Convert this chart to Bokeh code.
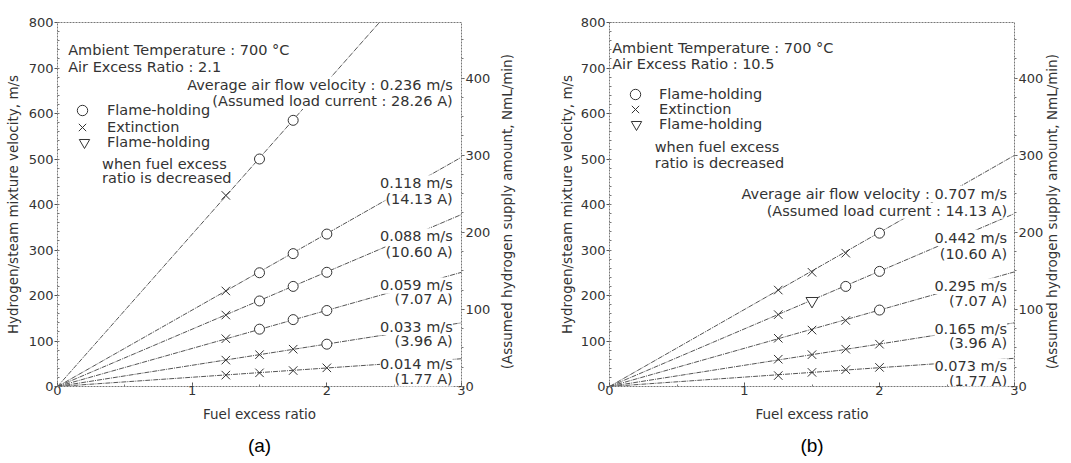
import math
from bokeh.plotting import figure
from bokeh.models import (Range1d, LinearAxis, SingleIntervalTicker, FixedTicker,
                          Label, Legend, LegendItem)
from bokeh.core.properties import value
from bokeh.layouts import row
from bokeh.embed import file_html
from bokeh.resources import INLINE

# ---------------- data ----------------
fuel_excess = [1.25, 1.5, 1.75, 2.0]

# panel (a) : air excess ratio 2.1
a_air_velocity = ["0.236", "0.118", "0.088", "0.059", "0.033", "0.014"]
a_load_current = ["28.26", "14.13", "10.60", "7.07", "3.96", "1.77"]
a_v0236 = [420, 500, 585]
a_v0118 = [210, 250, 292, 335]
a_v0088 = [157, 188, 220, 251]
a_v0059 = [105, 126, 147, 167]
a_v0033 = [58, 70, 82, 93]
a_v0014 = [25, 30, 35, 41]
a_m0236 = ["x", "o", "o"]
a_m0118 = ["x", "o", "o", "o"]
a_m0088 = ["x", "o", "o", "o"]
a_m0059 = ["x", "o", "o", "o"]
a_m0033 = ["x", "x", "x", "o"]
a_m0014 = ["x", "x", "x", "x"]
a_line_end_x = [2.39, 3, 3, 3, 3, 3]
a_line_end_y = [800, 504, 378, 251, 140, 61]

# panel (b) : air excess ratio 10.5
b_air_velocity = ["0.707", "0.442", "0.295", "0.165", "0.073"]
b_load_current = ["14.13", "10.60", "7.07", "3.96", "1.77"]
b_v0707 = [212, 251, 293, 337]
b_v0442 = [158, 188, 220, 253]
b_v0295 = [106, 124, 145, 168]
b_v0165 = [60, 70, 82, 93]
b_v0073 = [24, 31, 37, 42]
b_m0707 = ["x", "x", "x", "o"]
b_m0442 = ["x", "v", "o", "o"]
b_m0295 = ["x", "x", "x", "o"]
b_m0165 = ["x", "x", "x", "x"]
b_m0073 = ["x", "x", "x", "x"]
b_line_end_x = [3, 3, 3, 3, 3]
b_line_end_y = [508, 380, 252, 140, 62]

x_max = 3
y_left_max = 800
y_right_max = 472

# ---------------- style ----------------
FONT = "DejaVu Sans"
FS = "14.5px"
TXT = "#333333"
LINE = "#555555"
NAN = float("nan")


def style_axis(ax):
    ax.axis_line_color = None
    ax.major_tick_line_color = "#555555"
    ax.minor_tick_line_color = "#777777"
    ax.major_label_text_font = FONT
    ax.major_label_text_font_size = "13px"
    ax.major_label_text_color = TXT
    ax.axis_label_text_font = FONT
    ax.axis_label_text_font_size = "13.5px"
    ax.axis_label_text_font_style = "normal"
    ax.axis_label_text_color = TXT


def add_label(p, x, y, text, align="left", bg=None, size=FS, color=TXT, font=FONT):
    p.add_layout(Label(x=x, y=y, text=text, text_align=align,
                       text_baseline="alphabetic", text_font=font,
                       text_font_size=size, text_color=color,
                       background_fill_color=bg))


def make_panel(geo, air_ratio, tag, vals, marks, end_x, end_y,
               vel, cur, right_x, right_y):
    p = figure(width=geo["w"], height=geo["h"],
               x_range=Range1d(0, x_max), y_range=Range1d(0, y_left_max),
               output_backend="svg", toolbar_location=None,
               min_border_left=geo["bl"], min_border_right=geo["br"],
               min_border_top=geo["bt"], min_border_bottom=geo["bb"])
    p.xgrid.visible = False
    p.ygrid.visible = False
    p.outline_line_color = "#777777"
    p.outline_line_dash = "2 1"
    p.outline_line_width = 1

    # axes
    p.xaxis.ticker = SingleIntervalTicker(interval=1, num_minor_ticks=2)
    p.yaxis.ticker = SingleIntervalTicker(interval=100, num_minor_ticks=5)
    p.xaxis.axis_label = "Fuel excess ratio"
    p.yaxis.axis_label = "Hydrogen/steam mixture velocity, m/s"
    for ax in p.xaxis:
        style_axis(ax)
        ax.major_tick_in = 4
        ax.major_tick_out = 0
        ax.minor_tick_in = 2
        ax.minor_tick_out = 0
        ax.major_label_standoff = -1
        ax.axis_label_standoff = 8
    for ax in p.yaxis:
        style_axis(ax)
        ax.major_tick_in = 0
        ax.major_tick_out = 3
        ax.minor_tick_in = 2
        ax.minor_tick_out = 0
        ax.major_label_standoff = 1
        ax.axis_label_standoff = geo["ls"]

    p.extra_y_ranges = {"h": Range1d(0, y_right_max)}
    rax = LinearAxis(y_range_name="h",
                     ticker=SingleIntervalTicker(interval=100, num_minor_ticks=4),
                     axis_label="\u00a0" * 4 + "(Assumed hydrogen supply amount, NmL/min)")
    style_axis(rax)
    rax.major_tick_in = 0
    rax.major_tick_out = 3
    rax.minor_tick_in = 0
    rax.minor_tick_out = 2
    rax.major_label_standoff = 1
    rax.axis_label_standoff = geo["rs"]
    rax.axis_label_orientation = math.pi / 2
    rax.axis_label_align = "start"
    p.add_layout(rax, "right")

    # panel tag "(a)" / "(b)" as the label of an empty second bottom axis
    tax = LinearAxis(ticker=FixedTicker(ticks=[]), axis_label=tag)
    tax.axis_line_color = None
    tax.major_tick_in = 0
    tax.major_tick_out = 0
    tax.minor_tick_in = 0
    tax.minor_tick_out = 0
    tax.major_label_text_font_size = "0px"
    tax.major_label_standoff = 0
    tax.axis_label_text_font = "Liberation Sans"
    tax.axis_label_text_font_size = "19px"
    tax.axis_label_text_font_style = "normal"
    tax.axis_label_text_color = "black"
    tax.axis_label_standoff = geo["ts"]
    p.add_layout(tax, "below")

    # lines from the origin
    for ex, ey in zip(end_x, end_y):
        p.line([0, ex], [0, ey], line_color=LINE, line_width=1, line_dash="5 1 1 1")

    # points
    pts = {"o": ([], []), "x": ([], []), "v": ([], [])}
    for ys, ms in zip(vals, marks):
        for xv, yv, m in zip(fuel_excess, ys, ms):
            pts[m][0].append(xv)
            pts[m][1].append(yv)
    for k in pts:
        if not pts[k][0]:
            pts[k] = ([NAN], [NAN])
    r_o = p.scatter(pts["o"][0], pts["o"][1], marker="circle", size=10,
                    fill_color="white", line_color="#333333", line_width=1)
    r_x = p.scatter(pts["x"][0], pts["x"][1], marker="x", size=12,
                    line_color="#333333", line_width=1)
    r_v = p.scatter(pts["v"][0], pts["v"][1], marker="inverted_triangle", size=12,
                    fill_color="white", line_color="#333333", line_width=1)

    # legend keys (one small legend per key)
    fh = geo["h"] - geo["bt"] - geo["bb"]
    for r, txt, (cx, cy, tx) in zip([r_o, r_x, r_v],
                                    ["Flame-holding", "Extinction", "Flame-holding"],
                                    geo["keys"]):
        lg = Legend(items=[LegendItem(label=value(txt), renderers=[r])],
                    location=(cx - 13, fh - cy - 13),
                    glyph_width=26, glyph_height=26, label_height=26,
                    label_standoff=int(round(tx - (cx + 13))),
                    padding=0, margin=0, spacing=0,
                    border_line_color=None, background_fill_alpha=0,
                    label_text_font=FONT, label_text_font_size=FS,
                    label_text_color=TXT)
        p.add_layout(lg)
    wx, wy1, wy2 = geo["when"]
    add_label(p, wx, wy1, "when fuel excess")
    add_label(p, wx, wy2, "ratio is decreased")

    # header
    hx, hy1, hy2 = geo["head"]
    add_label(p, hx, hy1, "Ambient Temperature : 700 \u00b0C")
    add_label(p, hx, hy2, "Air Excess Ratio : " + air_ratio)

    # series labels (second line first, so the first line stays on top)
    for i, (v, c) in enumerate(zip(vel, cur)):
        y1, y2 = right_y[i]
        if i == 0:
            t1 = "Average air flow velocity : " + v + " m/s"
            t2 = "(Assumed load current : " + c + " A)"
        else:
            t1 = v + " m/s"
            t2 = "(" + c + " A)"
        add_label(p, right_x, y2, t2, align="right", bg="white")
        add_label(p, right_x, y1, t1, align="right", bg="white")
    return p


geo_a = dict(w=526, h=460, bl=57, br=64, bt=21, bb=74, ls=5, rs=14, ts=10,
             keys=[(25.0, 89.3, 49.7), (25.0, 105.5, 49.7), (27.0, 121.0, 49.7)],
             when=(0.331, 488, 457.5), head=(0.079, 739.5, 703))
geo_b = dict(w=545, h=460, bl=83, br=56, bt=22, bb=72, ls=3, rs=6, ts=10,
             keys=[(26.0, 73.5, 50.3), (26.0, 88.5, 50.3), (27.0, 103.5, 50.3)],
             when=(0.335, 526.3, 490.7), head=(0.02, 745, 708.6))

a_right_y = [(662.8, 627.7), (446.5, 411.4), (330.3, 295.9), (222.2, 191.6),
             (130.8, 100.2), (49.1, 16.2)]
b_right_y = [(423, 386.4), (326.1, 291.8), (220.3, 187.5), (127.2, 96.6),
             (44.2, 12.7)]

pa = make_panel(geo_a, "2.1", "(a)",
                [a_v0236, a_v0118, a_v0088, a_v0059, a_v0033, a_v0014],
                [a_m0236, a_m0118, a_m0088, a_m0059, a_m0033, a_m0014],
                a_line_end_x, a_line_end_y, a_air_velocity, a_load_current,
                2.935, a_right_y)
pb = make_panel(geo_b, "10.5", "(b)",
                [b_v0707, b_v0442, b_v0295, b_v0165, b_v0073],
                [b_m0707, b_m0442, b_m0295, b_m0165, b_m0073],
                b_line_end_x, b_line_end_y, b_air_velocity, b_load_current,
                2.945, b_right_y)

layout = row(pa, pb)
open("out.html", "w").write(file_html(layout, INLINE))
